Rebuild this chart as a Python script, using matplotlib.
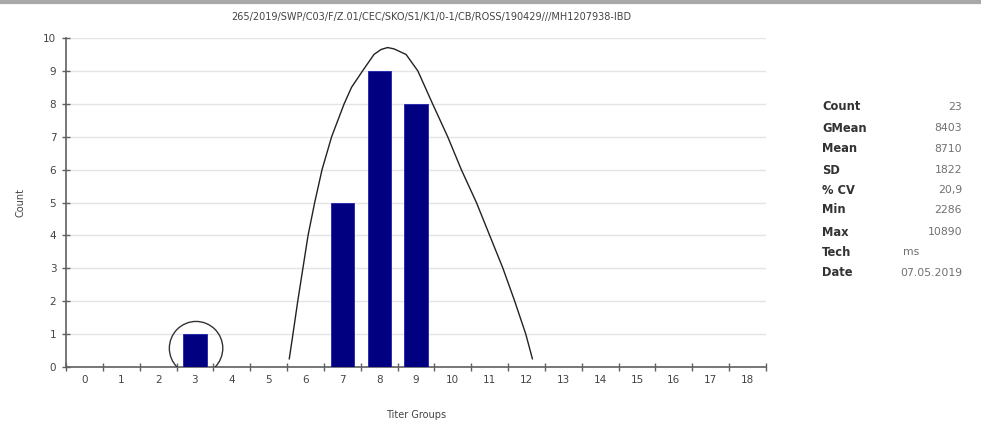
import numpy as np
import matplotlib.pyplot as plt
from matplotlib.patches import Ellipse
from matplotlib.lines import Line2D

title = "265/2019/SWP/C03/F/Z.01/CEC/SKO/S1/K1/0-1/CB/ROSS/190429///MH1207938-IBD"

groups = list(range(19))
counts = [0, 0, 0, 1, 0, 0, 0, 5, 9, 8, 0, 0, 0, 0, 0, 0, 0, 0, 0]

# fitted curve (group units, count)
curve_x = [5.56, 5.66, 5.79, 5.93, 6.07, 6.25, 6.45, 6.71, 7.05, 7.25, 7.55, 7.86,
           8.05, 8.23, 8.40, 8.73, 9.05, 9.45, 9.86, 10.23, 10.64, 11.0, 11.36,
           11.68, 11.98, 12.16]
curve_y = [0.25, 1, 2, 3, 4, 5, 6, 7, 8, 8.5, 9, 9.5,
           9.65, 9.71, 9.67, 9.5, 9, 8, 7, 6, 5, 4, 3,
           2, 1, 0.25]

stat_names = ["Count", "GMean", "Mean", "SD", "% CV", "Min", "Max", "Tech", "Date"]
stat_values = ["23", "8403", "8710", "1822", "20,9", "2286", "10890", "ms", "07.05.2019"]

fig = plt.figure(figsize=(9.81, 4.24), dpi=100)
ax = fig.add_axes([0.0673, 0.1344, 0.7135, 0.776])

axis_col = "#606060"
text_col = "#444444"

ax.bar(groups, counts, width=0.63, color="#000080", edgecolor="#2020b0", linewidth=0.6, zorder=3)
ax.plot(curve_x, curve_y, color="#222222", linewidth=1.0, zorder=4)

ax.add_patch(Ellipse((3.03, 0.57), 1.45, 1.63, fill=False, edgecolor="#333333", linewidth=1.0, zorder=5))

ax.set_xlim(-0.5, 18.5)
ax.set_ylim(0, 10)
ax.set_xticks(groups)
ax.set_xticklabels([str(g) for g in groups])
ax.set_xticks(np.arange(-0.5, 19, 1), minor=True)
ax.set_yticks(range(11))
ax.tick_params(axis="x", which="major", length=0, pad=6, labelsize=7.5, labelcolor=text_col)
ax.tick_params(axis="x", which="minor", length=6, direction="inout", width=1, color=axis_col)
ax.tick_params(axis="y", length=6, direction="inout", width=1, color=axis_col,
               labelsize=7.5, labelcolor=text_col, pad=4)

ax.grid(axis="y", color="#e4e4e4", linewidth=1, zorder=0)
ax.set_axisbelow(True)
for s in ["top", "right"]:
    ax.spines[s].set_visible(False)
for s in ["left", "bottom"]:
    ax.spines[s].set_color(axis_col)
    ax.spines[s].set_linewidth(1.2)

ax.set_xlabel("Titer Groups", fontsize=7, color=text_col, labelpad=18)
ax.set_ylabel("Count", fontsize=7, color=text_col, labelpad=13)

fig.text(0.44, 0.96, title, fontsize=7, color=text_col, ha="center", va="center")

# gray border line at the top
fig.add_artist(Line2D([0, 1], [0.995, 0.995], transform=fig.transFigure, color="#a8a8a8", linewidth=3))

row_y = [107, 128, 149, 170, 190, 210, 232, 252, 273]
for name, val, py in zip(stat_names, stat_values, row_y):
    fy = 1 - py / 424
    fig.text(822 / 981, fy, name, fontsize=8.3, fontweight="bold", color="#333333", va="center")
    if name == "Tech":
        fig.text(903 / 981, fy, val, fontsize=7.8, color="#707070", va="center")
    else:
        fig.text(962 / 981, fy, val, fontsize=7.8, color="#707070", va="center", ha="right")

fig.savefig("out.png", dpi=100)
